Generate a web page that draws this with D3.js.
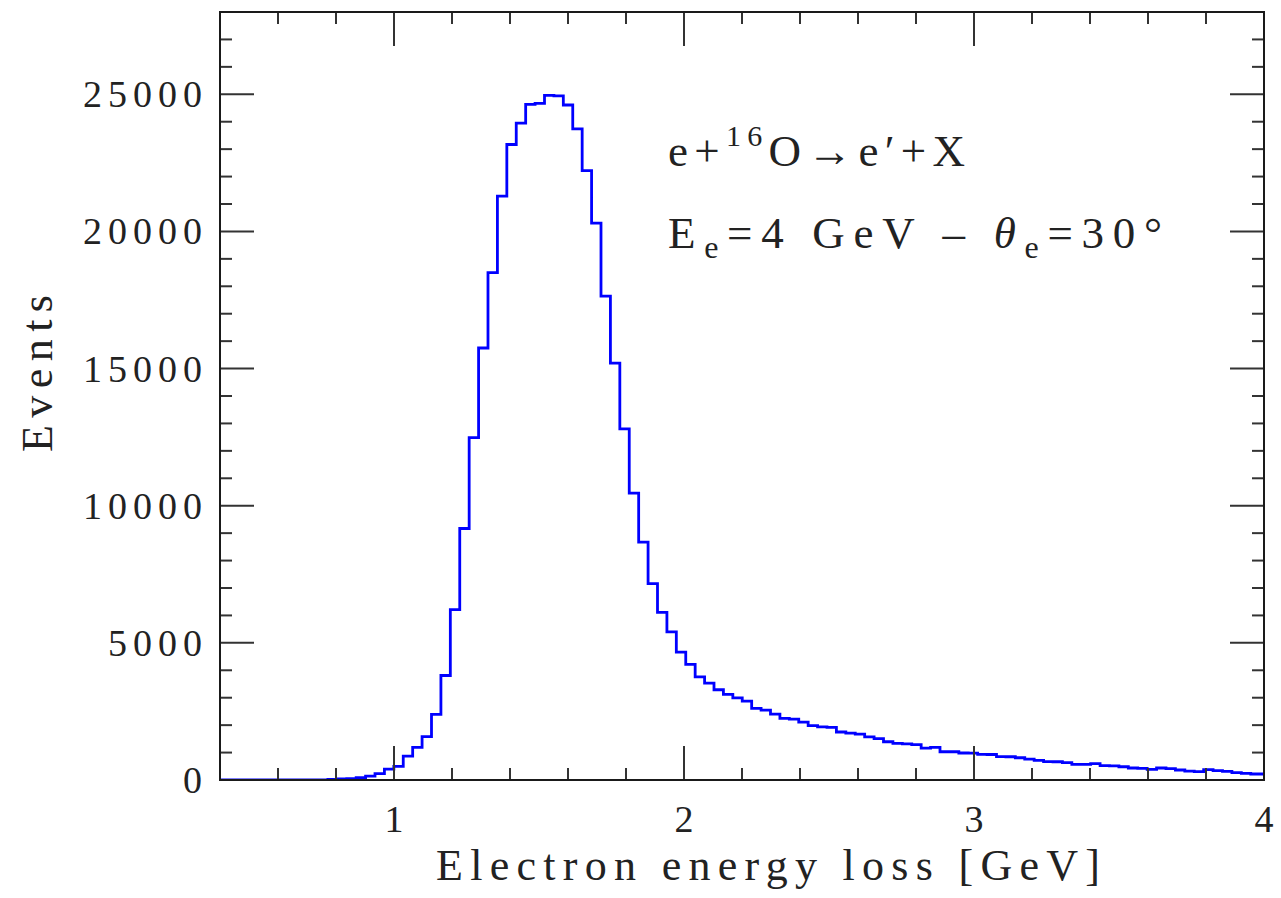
<!DOCTYPE html>
<html>
<head>
<meta charset="utf-8">
<script src="https://cdn.jsdelivr.net/npm/d3@7"></script>
<style>
  html, body { margin: 0; padding: 0; background: #fff; }
  svg { display: block; }
  text { font-family: "Liberation Serif", "DejaVu Serif", serif; fill: #222; }
</style>
</head>
<body>
<svg id="chart" width="1281" height="898"></svg>
<script>
// ---------------- data ----------------
const xDomain = [0.4, 4];
const yDomain = [0, 28000];
const xMajorTicks = [1, 2, 3, 4];
const yMajorTicks = [0, 5000, 10000, 15000, 20000, 25000];
const binStart = 0.38247;   // GeV, lower edge of first bin
const binWidth = 0.032471;  // GeV
const counts = [
  0, 0, 0, 0, 0, 0, 0, 0, 0, 0, 0, 0,
  20, 40, 50, 85, 140, 230, 400, 500, 870, 1190,
  1580, 2390, 3810, 6210, 9170, 12480, 15750, 18500, 21290, 23170,
  23950, 24630, 24670, 24960, 24940, 24610, 23740, 22220, 20300, 17640,
  15200, 12800, 10460, 8670, 7160, 6110, 5400, 4665, 4215, 3760,
  3530, 3290, 3120, 2995, 2875, 2610, 2550, 2400, 2245, 2220,
  2110, 1980, 1940, 1915, 1750, 1710, 1675, 1575, 1505, 1395,
  1335, 1320, 1290, 1165, 1190, 1030, 1030, 985, 980, 935,
  930, 850, 848, 812, 764, 716, 670, 665, 630, 572,
  568, 594, 522, 518, 484, 437, 424, 388, 437, 412,
  364, 327, 303, 375, 340, 315, 267, 242, 218, 218
];
const xTitle = "Electron energy loss [GeV]";
const yTitle = "Events";

// ---------------- layout ----------------
const svg = d3.select("#chart");
const L = 220, R = 1264, T = 12, B = 780;
const x = d3.scaleLinear().domain(xDomain).range([L, R]);
const y = d3.scaleLinear().domain(yDomain).range([B, T]);

svg.append("defs").append("clipPath").attr("id", "clip")
  .append("rect").attr("x", L).attr("y", T).attr("width", R - L).attr("height", B - T);

// histogram
const pts = counts.map((c, i) => [binStart + i * binWidth, c]);
pts.push([binStart + counts.length * binWidth, counts[counts.length - 1]]);
const line = d3.line().x(d => x(d[0])).y(d => y(d[1])).curve(d3.curveStepAfter);
svg.append("path")
  .attr("clip-path", "url(#clip)")
  .attr("d", line(pts))
  .attr("fill", "none")
  .attr("stroke", "#0000ff")
  .attr("stroke-width", 2.8)
  .attr("stroke-linejoin", "miter");

// ticks (all four sides, inward)
const tickColor = "#333";
const majLen = 34, minLen = 12;
const xMinor = d3.range(0.4, 4.0001, 0.2).filter(v => !xMajorTicks.some(m => Math.abs(m - v) < 1e-6));
const yMinor = d3.range(0, 28001, 1000).filter(v => v % 5000 !== 0);

function addXTicks(vals, len) {
  const g = svg.append("g");
  vals.forEach(v => {
    g.append("line").attr("x1", x(v)).attr("x2", x(v)).attr("y1", B).attr("y2", B - len)
      .attr("stroke", tickColor).attr("stroke-width", 2);
    g.append("line").attr("x1", x(v)).attr("x2", x(v)).attr("y1", T).attr("y2", T + len)
      .attr("stroke", tickColor).attr("stroke-width", 2);
  });
}
function addYTicks(vals, len) {
  const g = svg.append("g");
  vals.forEach(v => {
    g.append("line").attr("x1", L).attr("x2", L + len).attr("y1", y(v)).attr("y2", y(v))
      .attr("stroke", tickColor).attr("stroke-width", 2);
    g.append("line").attr("x1", R).attr("x2", R - len).attr("y1", y(v)).attr("y2", y(v))
      .attr("stroke", tickColor).attr("stroke-width", 2);
  });
}
addXTicks(xMajorTicks, majLen);
addXTicks(xMinor, minLen);
addYTicks(yMajorTicks.filter(v => v > 0), majLen);
addYTicks(yMinor, minLen);

// frame
svg.append("rect").attr("x", L).attr("y", T).attr("width", R - L).attr("height", B - T)
  .attr("fill", "none").attr("stroke", "#1a1a1a").attr("stroke-width", 2);

// tick labels
const fmt = d3.format("d");
svg.append("g").selectAll("text").data(xMajorTicks).join("text")
  .attr("x", d => x(d) + 3).attr("y", 832)
  .attr("text-anchor", "middle").attr("font-size", 38).attr("letter-spacing", 6)
  .text(d => fmt(d));
svg.append("g").selectAll("text").data(yMajorTicks).join("text")
  .attr("x", 208).attr("y", d => y(d) + 13)
  .attr("text-anchor", "end").attr("font-size", 38).attr("letter-spacing", 6)
  .text(d => fmt(d));

// axis titles
svg.append("text")
  .attr("x", 436).attr("y", 880)
  .attr("font-size", 44)
  .attr("textLength", 664).attr("lengthAdjust", "spacing")
  .text(xTitle);
svg.append("text")
  .attr("transform", "translate(52,452) rotate(-90)")
  .attr("font-size", 44)
  .attr("textLength", 157).attr("lengthAdjust", "spacing")
  .text(yTitle);

// annotation
const a1 = svg.append("text").attr("x", 668).attr("y", 166).attr("font-size", 45)
  .attr("textLength", 297).attr("lengthAdjust", "spacing");
a1.append("tspan").text("e+");
a1.append("tspan").attr("font-size", 30).attr("dy", -20).text("16");
a1.append("tspan").attr("dy", 20).text("O→e′+X");

const a2 = svg.append("text").attr("x", 668).attr("y", 248).attr("font-size", 45)
  .attr("textLength", 494).attr("lengthAdjust", "spacing");
a2.append("tspan").text("E");
a2.append("tspan").attr("font-size", 32).attr("dy", 10).text("e");
a2.append("tspan").attr("dy", -10).text("=4 GeV – ");
a2.append("tspan").attr("font-style", "italic").text("θ");
a2.append("tspan").attr("font-size", 32).attr("dy", 10).text("e");
a2.append("tspan").attr("dy", -10).text("=30°");
</script>
</body>
</html>
